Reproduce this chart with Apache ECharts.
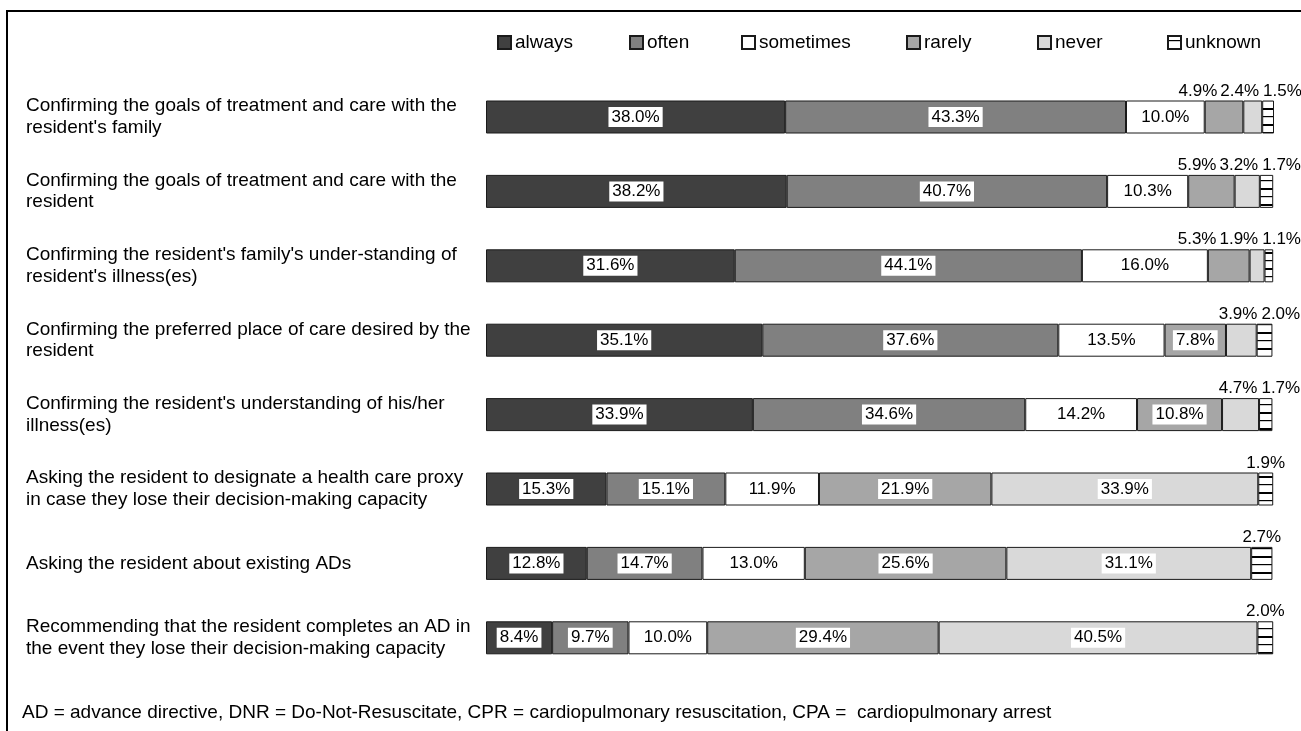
<!DOCTYPE html>
<html>
<head>
<meta charset="utf-8">
<script src="https://cdn.jsdelivr.net/npm/echarts@6/dist/echarts.min.js"></script>
<style>html,body{margin:0;padding:0;background:#fff;}#c{width:1301px;height:731px;}</style>
</head>
<body>
<div id="c"></div>
<script>
const categories = [
  "Confirming the goals of treatment and care with the\nresident's family",
  "Confirming the goals of treatment and care with the\nresident",
  "Confirming the resident's family's under-standing of\nresident's illness(es)",
  "Confirming the preferred place of care desired by the\nresident",
  "Confirming the resident's understanding of his/her\nillness(es)",
  "Asking the resident to designate a health care proxy\nin case they lose their decision-making capacity",
  "Asking the resident about existing ADs",
  "Recommending that the resident completes an AD in\nthe event they lose their decision-making capacity"
];
const seriesNames = ['always', 'often', 'sometimes', 'rarely', 'never', 'unknown'];
const always    = [38.0, 38.2, 31.6, 35.1, 33.9, 15.3, 12.8, 8.4];
const often     = [43.3, 40.7, 44.1, 37.6, 34.6, 15.1, 14.7, 9.7];
const sometimes = [10.0, 10.3, 16.0, 13.5, 14.2, 11.9, 13.0, 10.0];
const rarely    = [4.9, 5.9, 5.3, 7.8, 10.8, 21.9, 25.6, 29.4];
const never     = [2.4, 3.2, 1.9, 3.9, 4.7, 33.9, 31.1, 40.5];
const unknown   = [1.5, 1.7, 1.1, 2.0, 1.7, 1.9, 2.7, 2.0];
const footnote = 'AD = advance directive, DNR = Do-Not-Resuscitate, CPR = cardiopulmonary resuscitation, CPA =  cardiopulmonary arrest';

const values = [always, often, sometimes, rarely, never, unknown];
const FONT = "'Liberation Sans', Arial, Helvetica, sans-serif";
const SMALL = 7;

// striped pattern for "unknown"
const pc = document.createElement('canvas');
pc.width = 8; pc.height = 16;
const pctx = pc.getContext('2d');
pctx.fillStyle = '#fff'; pctx.fillRect(0, 0, 8, 16);
pctx.fillStyle = '#000';
pctx.fillRect(0, 4, 8, 1.2);
pctx.fillRect(0, 12, 8, 2);
const stripe = { image: pc, repeat: 'repeat' };

const fills = ['#404040', '#808080', '#ffffff', '#a6a6a6', '#d9d9d9', stripe];

const fmt = p => p.value.toFixed(1) + '%';

function layoutFor(s) {
  return function (params) {
    const i = params.dataIndex;
    const r = params.rect;
    const v = values[s][i];
    if (s < 5 && v >= SMALL) return {};
    const ppu = r.width / v;
    const y = r.y - 1;
    if (s === 5) {
      if (never[i] < SMALL) {
        const barEnd = r.x + r.width;
        return { x: barEnd - 11, y: y, align: 'left', verticalAlign: 'bottom' };
      }
      return { x: r.x + r.width / 2, y: y, align: 'center', verticalAlign: 'bottom' };
    }
    if (s === 4) {
      const barEnd = r.x + r.width + unknown[i] * ppu;
      return { x: barEnd - 15, y: y, align: 'right', verticalAlign: 'bottom' };
    }
    if (s === 3) {
      const barEnd = r.x + r.width + (never[i] + unknown[i]) * ppu;
      const w = params.labelRect.width;
      return { x: barEnd - 15 - w - 3, y: y, align: 'right', verticalAlign: 'bottom' };
    }
    return {};
  };
}

const series = seriesNames.map((name, s) => ({
  name: name,
  type: 'bar',
  stack: 'total',
  barWidth: 33,
  animation: false,
  itemStyle: { color: fills[s], borderColor: '#1a1a1a', borderWidth: 1 },
  emphasis: { disabled: true },
  label: {
    show: true,
    position: 'inside',
    formatter: fmt,
    color: '#000',
    fontFamily: FONT,
    fontSize: 17,
    backgroundColor: '#fff',
    padding: [2, 3, 1, 3]
  },
  labelLayout: layoutFor(s),
  data: values[s].map(v => (s === 5 || v < SMALL)
    ? { value: v, label: { position: 'top', backgroundColor: 'transparent', padding: 0 } }
    : { value: v })
}));

const legendLeft = [497, 629, 741, 906, 1037, 1167];
const legends = seriesNames.map((n, k) => ({
  data: [n],
  left: legendLeft[k],
  top: 33,
  padding: 0,
  itemWidth: 13,
  itemHeight: 13,
  itemGap: 5,
  selectedMode: false,
  textStyle: { fontFamily: FONT, fontSize: 19, color: '#000', padding: [0, 0, 0, -1] },
  icon: 'rect'
}));

const chart = echarts.init(document.getElementById('c'), null, { renderer: 'canvas' });
chart.setOption({
  backgroundColor: '#fff',
  animation: false,
  textStyle: { fontFamily: FONT },
  legend: legends,
  grid: { left: 486, top: 79.8, width: 788, height: 595.2, containLabel: false },
  xAxis: { type: 'value', min: 0, max: 100.1, show: false },
  yAxis: {
    type: 'category',
    data: categories,
    inverse: true,
    axisLine: { show: false },
    axisTick: { show: false },
    splitLine: { show: false },
    axisLabel: {
      align: 'left',
      margin: 460,
      fontFamily: FONT,
      fontSize: 19,
      lineHeight: 21.5,
      padding: [6, 0, 0, 0],
      color: '#000'
    }
  },
  series: series,
  graphic: [
    {
      type: 'polyline',
      shape: { points: [[7, 731], [7, 11], [1301, 11]] },
      style: { stroke: '#000', lineWidth: 2, fill: null },
      silent: true
    },
    {
      type: 'text',
      left: 22,
      top: 703,
      style: { text: footnote, fontFamily: FONT, fontSize: 19, fill: '#000' },
      silent: true
    }
  ]
});
</script>
</body>
</html>
